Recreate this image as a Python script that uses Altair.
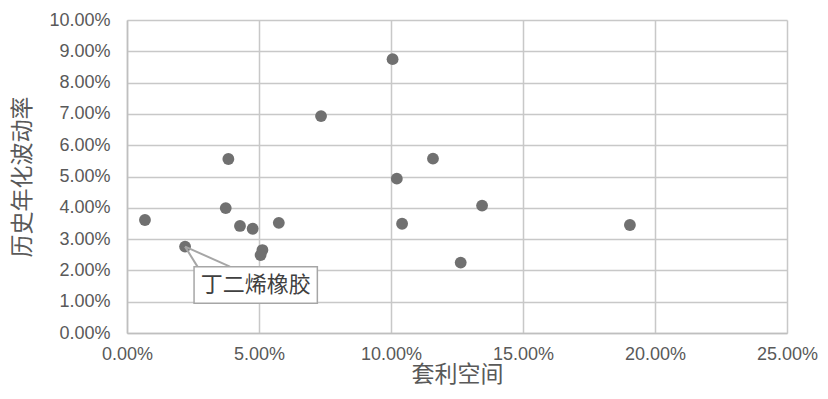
import altair as alt
import pandas as pd

# arbitrage spread (x) vs historical annualised volatility (y), as fractions
spread = [0.0068, 0.0220, 0.0374, 0.0384, 0.0428, 0.0476, 0.0513, 0.0506, 0.0575,
          0.0735, 0.1006, 0.1022, 0.1042, 0.1159, 0.1264, 0.1345, 0.1905]
vol = [0.0361, 0.0276, 0.0399, 0.0556, 0.0342, 0.0333, 0.0265, 0.0249, 0.0352,
       0.0693, 0.0875, 0.0493, 0.0349, 0.0557, 0.0225, 0.0407, 0.0345]

x_ticks = [0.0, 0.05, 0.10, 0.15, 0.20, 0.25]
y_ticks = [0.0, 0.01, 0.02, 0.03, 0.04, 0.05, 0.06, 0.07, 0.08, 0.09, 0.10]

label_text = "丁二烯橡胶"
label_point = (0.0220, 0.0276)
label_box = (0.0254, 0.0721, 0.0095, 0.0212)   # x1, x2, y1, y2
callout_ends = [0.0267, 0.0390]                # x where callout meets box top

FONT = "Liberation Sans, Noto Sans CJK SC"
GREY_TXT = "#595959"

pts = pd.DataFrame({"x": spread, "y": vol})

xs = alt.Scale(domain=[0, 0.25], nice=False)
ys = alt.Scale(domain=[0, 0.10], nice=False)

scatter = alt.Chart(pts).mark_circle(size=140, color="#707070", opacity=1).encode(
    x=alt.X("x:Q", scale=xs, title="套利空间",
            axis=alt.Axis(format=".2%", values=x_ticks, tickCount=len(x_ticks),
                          labelOverlap=False, labelFlush=False,
                          grid=True, ticks=False, tickSize=0, labelPadding=12,
                          titlePadding=0)),
    y=alt.Y("y:Q", scale=ys, title="历史年化波动率",
            axis=alt.Axis(format=".2%", values=y_ticks, tickCount=len(y_ticks),
                          labelOverlap=False, labelFlush=False,
                          grid=True, ticks=False, tickSize=0, labelPadding=17,
                          titlePadding=14)),
)

call_df = pd.DataFrame({
    "x": [label_point[0]] * 2, "y": [label_point[1]] * 2,
    "x2": callout_ends, "y2": [label_box[3]] * 2,
})
callout = alt.Chart(call_df).mark_rule(color="#a6a6a6", strokeWidth=2).encode(
    x=alt.X("x:Q", scale=xs), y=alt.Y("y:Q", scale=ys), x2="x2:Q", y2="y2:Q")

box_df = pd.DataFrame({"x": [label_box[0]], "x2": [label_box[1]],
                       "y": [label_box[2]], "y2": [label_box[3]],
                       "tx": [(label_box[0] + label_box[1]) / 2],
                       "ty": [(label_box[2] + label_box[3]) / 2],
                       "t": [label_text]})
box = alt.Chart(box_df).mark_rect(fill="white", stroke="#a6a6a6", strokeWidth=1.5).encode(
    x=alt.X("x:Q", scale=xs), x2="x2:Q", y=alt.Y("y:Q", scale=ys), y2="y2:Q")
txt = alt.Chart(box_df).mark_text(font=FONT, fontSize=22, color="#404040",
                                  baseline="middle", align="center").encode(
    x=alt.X("tx:Q", scale=xs), y=alt.Y("ty:Q", scale=ys), text="t:N")

chart = alt.layer(scatter, callout, box, txt).properties(
    width=660, height=313,
    autosize=alt.AutoSizeParams(type="none"),
    padding={"left": 127, "top": 20, "right": 41, "bottom": 66},
    background="white",
).configure_view(stroke=None).configure_axis(
    labelFont=FONT, labelFontSize=18, labelColor=GREY_TXT,
    titleFont=FONT, titleFontSize=23, titleColor=GREY_TXT, titleFontWeight="normal",
    gridColor="#c8c8c8", gridWidth=1.5, domainColor="#bfbfbf", domainWidth=1.5,
)

chart.save("out.html", embed_options={"renderer": "svg", "actions": False})
